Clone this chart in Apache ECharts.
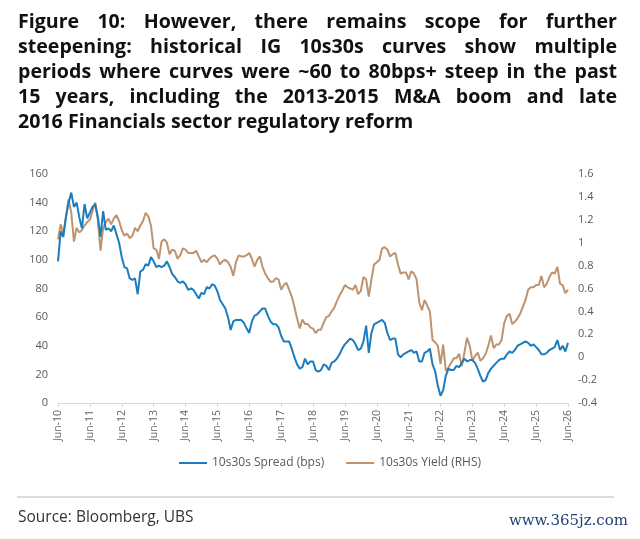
<!DOCTYPE html>
<html>
  <head>
    <meta charset="utf-8" />
    <title>IG 10s30s curves</title>
    <script src="https://cdn.jsdelivr.net/npm/echarts@6.0.0/dist/echarts.min.js"></script>
    <style>
      body { margin: 0; background: #fff; }
      #wrap { position: relative; width: 640px; height: 539px; }
      #title {
        position: absolute; left: 18px; top: 8px; width: 599px;
        font-family: 'Open Sans', sans-serif; font-weight: 700; font-size: 19.6px;
        line-height: 25px; color: #111;
      }
      #title div { white-space: nowrap; text-align: justify; text-align-last: justify; }
      #title div.last { text-align-last: left; }
      #main { position: absolute; left: 0; top: 0; width: 640px; height: 539px; }
    </style>
  </head>
  <body>
    <div id="wrap">
      <div id="main"></div>
      <div id="title">
        <div>Figure 10: However, there remains scope for further</div>
        <div>steepening: historical IG 10s30s curves show multiple</div>
        <div>periods where curves were ~60 to 80bps+ steep in the past</div>
        <div>15 years, including the 2013-2015 M&amp;A boom and late</div>
        <div class="last">2016 Financials sector regulatory reform</div>
      </div>
    </div>

    <script type="text/javascript">
      // 月度数据 Jun-10 .. Jun-26
      const monthNames = ['Jun', 'Jul', 'Aug', 'Sep', 'Oct', 'Nov', 'Dec', 'Jan', 'Feb', 'Mar', 'Apr', 'May']
      const tickLabels = ['Jun-10', 'Jun-11', 'Jun-12', 'Jun-13', 'Jun-14', 'Jun-15', 'Jun-16', 'Jun-17',
        'Jun-18', 'Jun-19', 'Jun-20', 'Jun-21', 'Jun-22', 'Jun-23', 'Jun-24', 'Jun-25', 'Jun-26']

      // 10s30s Spread (bps), left axis
      const spreadBps = [
        99, 120, 116, 130, 140, 147, 137,
        140, 130, 122, 139, 129, 133, 137, 139, 130, 116, 134, 121,
        122, 120, 124, 118, 112, 102, 95, 94, 87, 86, 87, 76,
        92, 93, 97, 96, 102, 99, 95, 96, 95, 96, 99, 95,
        90, 88, 85, 84, 85, 83, 79, 80, 79, 76, 73, 77,
        76, 81, 80, 83, 82, 78, 72, 69, 66, 60, 51, 57,
        58, 58, 58, 56, 52, 49, 57, 61, 62, 64, 66, 66,
        61, 57, 55, 55, 53, 47, 43, 43, 43, 38, 32, 27,
        24, 25, 31, 27, 29, 29, 23, 22, 23, 27, 26, 23,
        28, 29, 31, 34, 38, 41, 43, 45, 44, 41, 37, 38,
        43, 54, 35, 49, 55, 56, 57, 58, 56, 49, 44, 45,
        45, 34, 32, 34, 35, 36, 37, 35, 36, 29, 29, 35,
        36, 38, 27, 22, 12, 5, 9, 19, 24, 23, 23, 26,
        25, 28, 31, 29, 30, 30, 28, 24, 19, 15, 16, 21,
        24, 26, 28, 30, 31, 31, 34, 36, 35, 37, 40, 41,
        42, 43, 42, 40, 41, 39, 37, 34, 34, 35, 37, 38,
        39, 44, 37, 40, 36, 42
      ]

      // 10s30s Yield (RHS), right axis
      const yieldRhs = [
        1.03, 1.16, 1.08, 1.23, 1.38, 1.26, 1.01,
        1.13, 1.09, 1.11, 1.15, 1.18, 1.2, 1.28, 1.35, 1.2, 0.93, 1.13, 1.18,
        1.21, 1.16, 1.21, 1.24, 1.19, 1.11, 1.06, 1.08, 1.04, 1.06, 1.13, 1.1,
        1.15, 1.19, 1.26, 1.23, 1.15, 0.95, 0.94, 0.86, 1.01, 1.03, 1.0, 0.9,
        0.94, 0.93, 0.86, 0.89, 0.95, 0.94, 0.91, 0.91, 0.91, 0.93, 0.88, 0.83,
        0.85, 0.83, 0.86, 0.88, 0.89, 0.86, 0.81, 0.84, 0.85, 0.83, 0.79, 0.71,
        0.83, 0.89, 0.88, 0.88, 0.89, 0.91, 0.86, 0.79, 0.85, 0.88, 0.79, 0.73,
        0.69, 0.66, 0.66, 0.69, 0.68, 0.59, 0.63, 0.65, 0.59, 0.53, 0.44, 0.34,
        0.25, 0.33, 0.29, 0.29, 0.26, 0.25, 0.21, 0.24, 0.24, 0.3, 0.35, 0.36,
        0.4, 0.43, 0.49, 0.54, 0.58, 0.63, 0.61, 0.6, 0.59, 0.63, 0.55, 0.58,
        0.7, 0.68, 0.53, 0.68, 0.81, 0.83, 0.85, 0.95, 0.96, 0.94, 0.88, 0.9,
        0.91, 0.81, 0.73, 0.74, 0.74, 0.68, 0.75, 0.73, 0.68, 0.48, 0.41, 0.5,
        0.45, 0.4, 0.15, 0.13, 0.1, -0.06, 0.11, -0.12, -0.09, -0.05, -0.01, -0.01,
        0.03, -0.08, 0.04, 0.17, 0.1, -0.03, 0.01, 0.04, -0.03, -0.01, 0.03, 0.1,
        0.19, 0.08, 0.11, 0.11, 0.15, 0.3, 0.36, 0.38, 0.29, 0.31, 0.34, 0.38,
        0.44, 0.5, 0.59, 0.61, 0.61, 0.63, 0.63, 0.71, 0.61, 0.64, 0.7, 0.74,
        0.73, 0.79, 0.64, 0.63, 0.56, 0.59
      ]

      const blue = '#1b7dc0'
      const tan = '#bd9370'
      const font = "'Open Sans', sans-serif"

      const dates = []
      for (let i = 0; i < spreadBps.length; i++) {
        const yr = 10 + Math.floor((i + 5) / 12)
        dates.push(monthNames[i % 12] + '-' + yr)
      }
      const onTick = (idx) => tickLabels.indexOf(dates[idx]) >= 0

      var myChart = echarts.init(document.getElementById('main'))

      option = {
        animation: false,
        backgroundColor: '#fff',
        textStyle: { fontFamily: font },
        grid: { left: 58, right: 72, top: 174, bottom: 136 },
        legend: {
          left: 179,
          top: 457,
          padding: 0,
          icon: 'rect',
          itemWidth: 28,
          itemHeight: 2,
          itemGap: 22,
          textStyle: { fontFamily: font, fontSize: 12, color: '#595959' },
          data: ['10s30s Spread (bps)', '10s30s Yield (RHS)'],
        },
        xAxis: {
          type: 'category',
          boundaryGap: false,
          data: dates,
          axisLine: { lineStyle: { color: '#d9d9d9', width: 1 } },
          axisTick: { interval: (idx) => onTick(idx), length: 4, lineStyle: { color: '#d9d9d9' } },
          axisLabel: {
            interval: (idx) => onTick(idx),
            rotate: 90,
            margin: 7,
            fontSize: 10.5,
            color: '#666',
            fontFamily: font,
          },
          splitLine: { show: false },
        },
        yAxis: [
          {
            type: 'value',
            min: 0,
            max: 160,
            interval: 20,
            axisLine: { show: false },
            axisTick: { show: false },
            splitLine: { show: false },
            axisLabel: { margin: 10, fontSize: 11, color: '#595959', fontFamily: font },
          },
          {
            type: 'value',
            min: -0.4,
            max: 1.6,
            interval: 0.2,
            axisLine: { show: false },
            axisTick: { show: false },
            splitLine: { show: false },
            axisLabel: {
              margin: 10,
              fontSize: 11,
              color: '#595959',
              fontFamily: font,
              formatter: (v) => String(+v.toFixed(1)),
            },
          },
        ],
        series: [
          {
            name: '10s30s Spread (bps)',
            type: 'line',
            yAxisIndex: 0,
            data: spreadBps,
            showSymbol: false,
            z: 3,
            lineStyle: { color: blue, width: 2 },
            itemStyle: { color: blue },
          },
          {
            name: '10s30s Yield (RHS)',
            type: 'line',
            yAxisIndex: 1,
            data: yieldRhs,
            showSymbol: false,
            z: 2,
            lineStyle: { color: tan, width: 2 },
            itemStyle: { color: tan },
          },
        ],
        graphic: [
          {
            type: 'line',
            shape: { x1: 17, y1: 497, x2: 614, y2: 497 },
            style: { stroke: '#d0d0d0', lineWidth: 1.5 },
          },
          {
            type: 'text',
            left: 18,
            top: 510,
            style: { text: 'Source: Bloomberg, UBS', font: "15.5px 'Open Sans', sans-serif", fill: '#333' },
          },
          {
            type: 'text',
            right: 12,
            top: 514,
            style: { text: 'www.365jz.com', font: "15px 'DejaVu Serif', serif", fill: '#23407a' },
          },
        ],
      }

      myChart.setOption(option)
    </script>
  </body>
</html>
